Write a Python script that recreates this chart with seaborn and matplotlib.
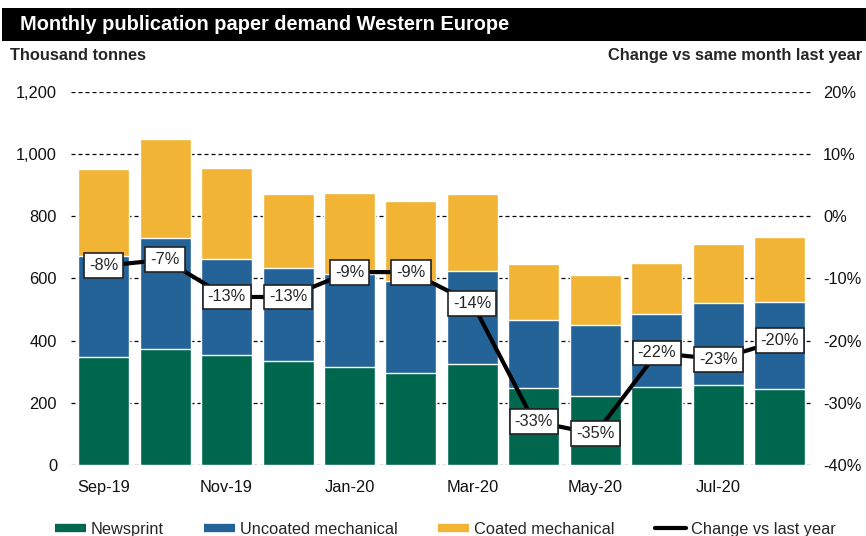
import matplotlib.pyplot as plt
from matplotlib.lines import Line2D
from matplotlib.patches import Rectangle
from matplotlib.ticker import FuncFormatter
import seaborn as sns
import pandas as pd

# monthly demand, thousand tonnes
months = ["Sep-19", "Oct-19", "Nov-19", "Dec-19", "Jan-20", "Feb-20",
          "Mar-20", "Apr-20", "May-20", "Jun-20", "Jul-20", "Aug-20"]
newsprint = [348, 374, 352, 335, 314, 295, 326, 248, 221, 251, 256, 245]
uncoated = [323, 356, 311, 297, 301, 296, 298, 217, 228, 234, 265, 279]
coated = [279, 319, 291, 240, 260, 257, 248, 181, 162, 165, 189, 210]
change = [-8, -7, -13, -13, -9, -9, -14, -33, -35, -22, -23, -20]

GREEN = "#00674F"
BLUE = "#246397"
YELLOW = "#F1B434"
FS = 11.8

sns.set_style("white")
plt.rcParams["font.family"] = ["Liberation Sans", "DejaVu Sans"]

df = pd.DataFrame({"month": months, "newsprint": newsprint,
                   "uncoated": uncoated, "coated": coated, "change": change})
df["mid"] = df["newsprint"] + df["uncoated"]
df["top"] = df["mid"] + df["coated"]

fig = plt.figure(figsize=(8.66, 5.36), dpi=100)
ax = fig.add_axes([0.082, 0.1325, 0.854, 0.6965])

# stacked bars by layering cumulative totals
for col, c in [("top", YELLOW), ("mid", BLUE), ("newsprint", GREEN)]:
    sns.barplot(data=df, x="month", y=col, color=c, saturation=1, width=0.83,
                edgecolor="white", linewidth=1, ax=ax)

ax.set_ylim(0, 1200)
ax.set_yticks(range(0, 1201, 200))
ax.yaxis.set_major_formatter(FuncFormatter(lambda v, p: f"{int(v):,}"))
ax.grid(axis="y", color="black", linestyle=(0, (3.2, 2.4)), linewidth=0.9)
ax.set_axisbelow(True)
ax.set_xlabel("")
ax.set_ylabel("")
for s in ax.spines.values():
    s.set_visible(False)
ax.tick_params(axis="y", length=0, pad=10, labelsize=FS, colors="#111111")
ax.tick_params(axis="x", length=0, pad=11, labelsize=FS, colors="#111111")

# change vs last year on the right axis
ax2 = ax.twinx()
sns.lineplot(data=df, x="month", y="change", color="black", linewidth=3,
             sort=False, ax=ax2)
for i, v in enumerate(change):
    ax2.text(i, v, f"{v}%", ha="center", va="center", fontsize=FS,
             bbox=dict(boxstyle="square,pad=0.3", fc="white", ec="#222222", lw=1.2))
ax2.set_ylim(-40, 20)
ax2.set_yticks(range(-40, 21, 10))
ax2.yaxis.set_major_formatter(FuncFormatter(lambda v, p: f"{int(v)}%"))
ax2.set_ylabel("")
for s in ax2.spines.values():
    s.set_visible(False)
ax2.tick_params(axis="y", length=0, pad=9, labelsize=FS, colors="#111111")

ax.set_xticks(range(0, len(months), 2))
ax.set_xticklabels(months[::2])
ax.set_xlim(-0.53, 11.5)

# title banner and axis captions
fig.patches.append(Rectangle((0.002, 0.924), 0.998, 0.061, transform=fig.transFigure,
                             facecolor="black", edgecolor="none"))
fig.text(0.023, 0.955, "Monthly publication paper demand Western Europe",
         color="white", fontsize=14.4, fontweight="bold", va="center")
fig.text(0.012, 0.897, "Thousand tonnes", fontsize=FS, fontweight="bold", va="center")
fig.text(0.996, 0.897, "Change vs same month last year", fontsize=FS,
         fontweight="bold", va="center", ha="right")

handles = [Line2D([], [], color=GREEN, lw=6, solid_capstyle="butt"),
           Line2D([], [], color=BLUE, lw=6, solid_capstyle="butt"),
           Line2D([], [], color=YELLOW, lw=6, solid_capstyle="butt"),
           Line2D([], [], color="black", lw=3)]
fig.legend(handles, ["Newsprint", "Uncoated mechanical", "Coated mechanical",
                     "Change vs last year"],
           loc="center", bbox_to_anchor=(0.514, 0.012), ncol=4, frameon=False,
           fontsize=FS, handlelength=1.9, handletextpad=0.3, columnspacing=2.45)

fig.savefig("out.png", dpi=100)
